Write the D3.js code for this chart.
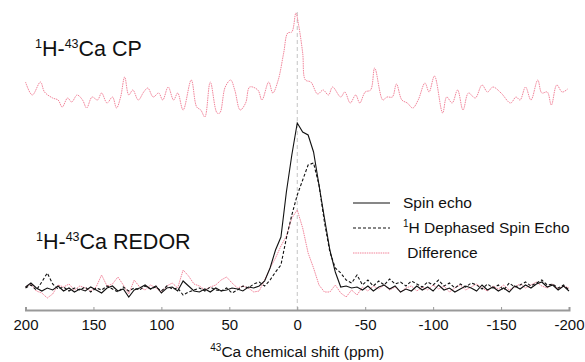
<!DOCTYPE html>
<html>
<head>
<meta charset="utf-8">
<script src="https://cdn.jsdelivr.net/npm/d3@7"></script>
<style>
  body { margin: 0; background: #fff; }
  svg { font-family: 'Liberation Sans', Arial, sans-serif; }
</style>
</head>
<body>
<div id="chart"></div>
<script>
// 1H-43Ca CP spectrum (shift in ppm, intensity in arbitrary units)
const cpShift = [200, 195, 189, 186, 180, 176, 173, 169, 166, 162, 158, 155, 151, 147, 144, 140, 136, 133, 130, 127,
  124, 121, 117, 113, 110, 106, 102, 99, 95, 91, 88, 84, 78, 74, 71, 68, 64, 59, 57, 53, 49, 46, 42, 38, 35,
  29, 26, 21, 18, 14, 10, 7, 4, 1, -1, -4, -6, -10, -15, -19, -23, -26, -32, -35, -39, -43, -46, -50, -54, -57,
  -63, -66, -70, -73, -77, -81, -85, -89, -94, -97, -101, -107, -110, -114, -118, -122, -126, -131, -136, -140,
  -144, -150, -157, -161, -164, -168, -172, -177, -180, -184, -187, -191, -195, -199];
const cpIntensity = [8, -5, 8, -2, -8, -10, -17, -8, -12, -5, -10, -18, -7, -10, -3, -13, -7, -18, -7, 13,
  -5, 0, -10, -2, 2, -7, -3, -10, 3, -10, -3, -20, 10, -17, -20, -27, 8, -23, -23, 3, 10, 0, -20, -13, 3,
  0, -10, 8, -3, 10, 37, 57, 58, 77, 65, 37, 10, 8, -4, 0, -5, 3, -7, -2, -13, -5, -13, -2, 0, 22,
  -10, -7, -7, 6, -10, -13, -18, -10, 7, -2, 14, -23, -7, -13, 0, -20, -3, -8, 5, -2,
  3, -3, -13, -7, -10, 3, -10, 10, -3, -2, -15, 5, -2, 1];

// 1H-43Ca REDOR spectra, sampled every 4 ppm from 200 to -200
const redorShift = d3.range(200, -201, -4);
const spinEcho = [1, 5, 0, -3, 0, -2, 2, -3, 0, -4, -1, -3, 1, -2, -5, 0, 2, -3, -1, -9,
  -2, 0, 3, -1, 2, -5, 0, 1, -3, 7, 2, -3, -4, -1, -4, 0, -3, -2, 0, -1,
  -3, 1, 0, 2, 7, 20, 38, 51, 96, 133, 165, 156, 153, 136, 103, 70, 38, 16, 1, 2,
  0, 1, -2, 2, -3, 1, 3, -1, 2, -4, -1, -3, 2, -2, 1, -3, 3, -2, 0, -4,
  -1, 2, 0, -3, 3, -2, 1, -3, 0, -4, 2, -1, 3, 0, 4, 6, 1, 3, -2, 2, -3];
const dephasedEcho = [0, 3, -2, 6, 15, 4, -1, 1, -3, 0, -2, 1, -4, 0, -2, 2, -1, -4, 1, -3,
  0, -2, 2, -1, 1, -3, 2, -1, 0, -7, -4, -2, 0, -3, 1, -2, -3, 0, -5, -2,
  2, 0, 4, 6, 2, 8, 16, 23, 50, 73, 93, 108, 123, 125, 103, 66, 36, 20, 15, 8,
  5, 13, 3, 8, 2, 7, 3, 9, 4, 6, 2, 7, 4, 1, 6, 3, 8, 2, 5, 0,
  4, 1, 5, 3, -1, 4, 0, 3, -2, 5, 1, 3, 6, 2, 5, 8, 3, 4, 0, 3, -2];
const difference = [1, 4, -3, -5, -10, -6, 3, 1, 4, -2, 2, 0, -3, 1, 13, 2, 4, 11, 3, -6,
  8, 1, -2, 3, 0, -4, 2, 5, 0, 18, 12, 4, 2, -2, 1, 3, 8, 11, 5, 0,
  2, 0, -4, -3, 8, 20, 30, 42, 52, 70, 78, 60, 35, 20, 3, -4, -4, 3, -5, -9,
  -2, -7, 1, -3, 2, -1, 3, -2, 1, -4, 0, 2, -3, 1, -2, 3, -1, 2, -4, 0,
  3, -2, 1, 4, 0, -3, 2, -1, 3, -2, 1, 4, 0, 3, 6, 2, 0, 4, -1, 2, 0];

const xTicks = [200, 150, 100, 50, 0, -50, -100, -150, -200];

const width = 585, height = 362;
const pink = '#f2849a';

const svg = d3.select('#chart').append('svg')
  .attr('width', width)
  .attr('height', height);

const x = d3.scaleLinear().domain([200, -200]).range([25.5, 569]);
const yCp = d3.scaleLinear().domain([0, 77]).range([90, 13]);
const yRedor = d3.scaleLinear().domain([0, 165]).range([288, 123]);

// reference line at 0 ppm
svg.append('line')
  .attr('x1', x(0)).attr('x2', x(0))
  .attr('y1', 12).attr('y2', 310)
  .attr('stroke', '#c4c4c4')
  .attr('stroke-width', 1)
  .attr('stroke-dasharray', '4,3');

// bottom axis
const axis = svg.append('g')
  .attr('transform', 'translate(0,310)')
  .call(d3.axisBottom(x).tickValues(xTicks).tickSize(-3).tickPadding(9).tickFormat(d => String(d)));
axis.select('.domain').attr('stroke', '#999').attr('stroke-width', 2);
axis.selectAll('.tick line').attr('stroke', '#999');
axis.selectAll('.tick text')
  .attr('fill', '#111')
  .style('font-size', '15px')
  .style('font-family', "'Liberation Sans', Arial, sans-serif");

const title = svg.append('text')
  .attr('x', x(0)).attr('y', 357)
  .attr('text-anchor', 'middle')
  .style('font-size', '15.5px')
  .attr('fill', '#111');
title.append('tspan').attr('dy', -6).style('font-size', '10px').text('43');
title.append('tspan').attr('dy', 6).text('Ca chemical shift (ppm)');

// traces
const cpLine = d3.line()
  .curve(d3.curveCatmullRom)
  .x((d, i) => x(cpShift[i]))
  .y(d => yCp(d));

svg.append('path')
  .datum(cpIntensity)
  .attr('d', cpLine)
  .attr('fill', 'none')
  .attr('stroke', pink)
  .attr('stroke-width', 1)
  .attr('stroke-dasharray', '1.5,0.8');

const redorLine = d3.line()
  .x((d, i) => x(redorShift[i]))
  .y(d => yRedor(d));

svg.append('path')
  .datum(difference)
  .attr('d', redorLine)
  .attr('fill', 'none')
  .attr('stroke', pink)
  .attr('stroke-width', 1)
  .attr('stroke-dasharray', '1.5,0.8');

svg.append('path')
  .datum(dephasedEcho)
  .attr('d', redorLine)
  .attr('fill', 'none')
  .attr('stroke', '#111')
  .attr('stroke-width', 1.1)
  .attr('stroke-dasharray', '3,2');

svg.append('path')
  .datum(spinEcho)
  .attr('d', redorLine)
  .attr('fill', 'none')
  .attr('stroke', '#111')
  .attr('stroke-width', 1.1);

// spectrum labels
function nucLabel(px, py, suffix) {
  const t = svg.append('text')
    .attr('x', px).attr('y', py)
    .style('font-size', '21.5px')
    .attr('fill', '#111');
  t.append('tspan').attr('dy', -8).style('font-size', '12.5px').text('1');
  t.append('tspan').attr('dy', 8).text('H-');
  t.append('tspan').attr('dy', -8).style('font-size', '12.5px').text('43');
  t.append('tspan').attr('dy', 8).text('Ca ' + suffix);
}
nucLabel(35, 56, 'CP');
nucLabel(36, 249, 'REDOR');

// legend
const legendItems = [
  { label: 'Spin echo', sup: '', stroke: '#111', dash: null, y: 203 },
  { label: 'H Dephased Spin Echo', sup: '1', stroke: '#111', dash: '3,2', y: 228 },
  { label: ' Difference', sup: '', stroke: pink, dash: '1.5,0.8', y: 253 }
];
const legend = svg.append('g');
legendItems.forEach(d => {
  legend.append('line')
    .attr('x1', 353).attr('x2', 390)
    .attr('y1', d.y).attr('y2', d.y)
    .attr('stroke', d.stroke)
    .attr('stroke-width', 1.1)
    .attr('stroke-dasharray', d.dash);
  const t = legend.append('text')
    .attr('x', 403).attr('y', d.y + 5)
    .style('font-size', '15.5px')
    .style('white-space', 'pre')
    .attr('xml:space', 'preserve')
    .attr('fill', '#111');
  if (d.sup) {
    t.append('tspan').attr('dy', -6).style('font-size', '10px').text(d.sup);
    t.append('tspan').attr('dy', 6).text(d.label);
  } else {
    t.text(d.label);
  }
});
</script>
</body>
</html>
